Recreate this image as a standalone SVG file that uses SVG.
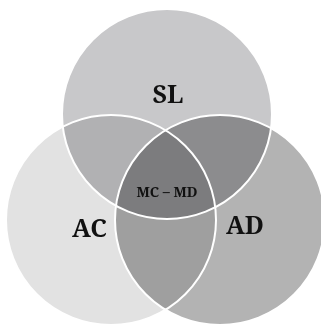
<svg xmlns="http://www.w3.org/2000/svg" width="321" height="324" viewBox="0 0 321 324">
  <style>
    .set { mix-blend-mode: multiply; }
    .edge { fill: none; stroke: #ffffff; stroke-width: 2; }
    .lbl { font-family: "Noto Serif", "DejaVu Serif", "Liberation Serif", serif; font-weight: bold; fill: #111111; text-anchor: middle; }
  </style>
  <rect width="321" height="324" fill="#ffffff"/>
  <g id="sets">
    <g id="set-sl">
      <circle class="set" cx="167" cy="114" r="105" fill="#c8c8ca"/>
    </g>
    <g id="set-ac">
      <circle class="set" cx="111" cy="220" r="105" fill="#e2e2e2"/>
    </g>
    <g id="set-ad">
      <circle class="set" cx="220" cy="220" r="105" fill="#b3b3b3"/>
    </g>
  </g>
  <g id="edges">
    <circle class="edge" cx="167" cy="114" r="105"/>
    <circle class="edge" cx="111" cy="220" r="105"/>
    <circle class="edge" cx="220" cy="220" r="105"/>
  </g>
  <g id="labels">
    <text class="lbl" x="168" y="103" font-size="25">SL</text>
    <text class="lbl" x="89.5" y="237" font-size="25">AC</text>
    <text class="lbl" x="245" y="234" font-size="25">AD</text>
    <text class="lbl" x="167" y="197" font-size="14">MC – MD</text>
  </g>
</svg>
